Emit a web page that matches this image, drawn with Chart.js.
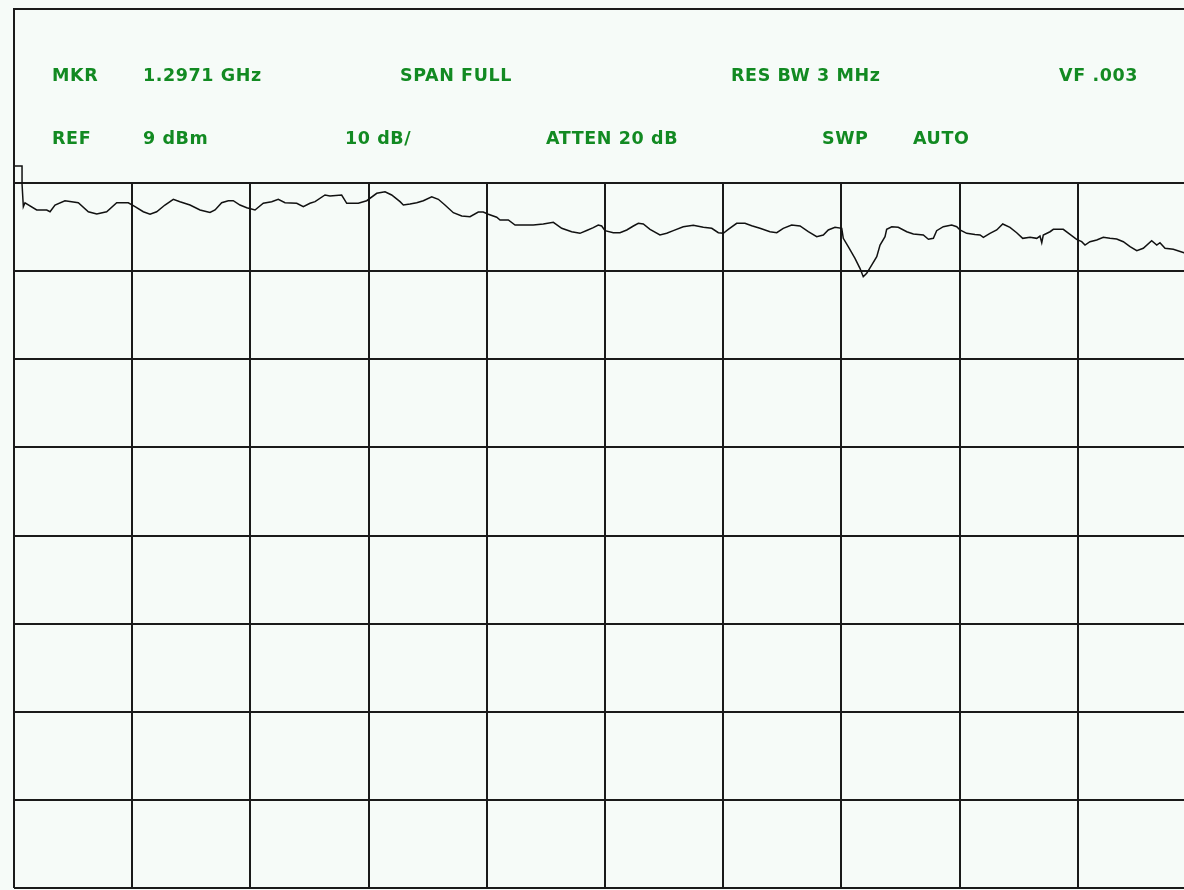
<!DOCTYPE html>
<html><head><meta charset="utf-8">
<script src="https://cdn.jsdelivr.net/npm/chart.js@4/dist/chart.umd.min.js"></script>
<style>
html,body{margin:0;padding:0;background:#f6fbf8;overflow:hidden;width:1184px;height:890px}
#wrap{position:relative;width:1184px;height:890px;overflow:hidden;background:#f6fbf8}
canvas{position:absolute;left:0;top:0}
#panel{position:absolute;left:13px;top:8px;width:1300px;height:175px;border-top:2px solid #1a1a1a;border-left:2px solid #1a1a1a}
.lbl{position:absolute;font-family:"DejaVu Sans",sans-serif;font-weight:bold;font-size:17.5px;line-height:1;color:#128a22;white-space:pre;letter-spacing:0.6px}
</style></head><body>
<div id="wrap"><canvas id="c" width="1200" height="890"></canvas><div id="panel"></div></div>
<script>
// Frequency position in graticule divisions (span FULL, 10 div)
const freqDiv = [0,0.068,0.068,0.079,0.093,0.192,0.277,0.305,0.347,0.431,0.544,0.629,0.700,0.784,0.869,0.967,1.024,1.094,1.151,1.207,1.277,1.348,1.404,1.489,1.574,1.658,1.701,1.757,1.813,1.855,1.912,1.969,2.039,2.109,2.180,2.236,2.293,2.392,2.448,2.504,2.547,2.631,2.673,2.772,2.815,2.913,2.984,3.069,3.139,3.195,3.266,3.294,3.350,3.407,3.463,3.534,3.590,3.646,3.717,3.788,3.858,3.928,3.970,4.013,4.084,4.112,4.182,4.239,4.309,4.393,4.478,4.563,4.634,4.718,4.788,4.845,4.901,4.943,4.972,5.000,5.070,5.127,5.184,5.240,5.282,5.324,5.381,5.465,5.522,5.578,5.662,5.747,5.832,5.903,5.959,6.001,6.043,6.114,6.184,6.241,6.311,6.396,6.453,6.508,6.579,6.650,6.720,6.791,6.847,6.889,6.946,7.003,7.016,7.058,7.115,7.157,7.185,7.214,7.256,7.299,7.327,7.369,7.383,7.426,7.481,7.553,7.609,7.693,7.736,7.778,7.806,7.862,7.933,7.976,8.003,8.060,8.130,8.173,8.201,8.257,8.314,8.365,8.426,8.483,8.534,8.596,8.653,8.680,8.695,8.708,8.765,8.793,8.877,8.934,8.990,9.033,9.061,9.103,9.160,9.216,9.272,9.329,9.385,9.442,9.499,9.554,9.625,9.668,9.695,9.738,9.808,9.898,9.95];
// Trace level in dBm (REF 9 dBm, 10 dB/div)
const levelDbm = [10.93,10.93,8.89,6.31,6.76,5.94,5.94,5.74,6.50,6.99,6.76,5.74,5.48,5.74,6.76,6.76,6.31,5.74,5.45,5.74,6.50,7.15,6.88,6.50,5.94,5.65,5.94,6.76,6.99,6.99,6.50,6.20,5.94,6.70,6.88,7.15,6.76,6.70,6.31,6.70,6.88,7.64,7.52,7.64,6.70,6.70,6.99,7.83,8.01,7.64,6.88,6.50,6.62,6.76,6.99,7.44,7.15,6.50,5.63,5.25,5.17,5.71,5.71,5.45,5.11,4.80,4.80,4.23,4.23,4.23,4.35,4.54,3.86,3.47,3.29,3.61,3.93,4.23,4.12,3.59,3.36,3.36,3.67,4.12,4.43,4.35,3.74,3.10,3.29,3.59,4.04,4.20,3.97,3.86,3.36,3.29,3.74,4.43,4.43,4.15,3.86,3.47,3.36,3.86,4.23,4.12,3.47,2.90,3.10,3.67,3.97,3.86,2.72,1.77,0.45,-0.68,-1.64,-1.25,-0.31,0.63,1.96,2.90,3.74,4.04,3.97,3.47,3.21,3.10,2.61,2.72,3.59,4.04,4.23,4.04,3.67,3.29,3.15,3.10,2.84,3.29,3.67,4.35,3.97,3.36,2.72,2.84,2.72,2.98,2.22,3.10,3.47,3.74,3.74,3.18,2.61,2.34,1.96,2.34,2.53,2.84,2.72,2.64,2.34,1.77,1.32,1.59,2.45,1.96,2.22,1.59,1.47,1.09,1.0];
const xTicks = [0,1,2,3,4,5,6,7,8,9,10];
const yTicks = [9,-1,-11,-21,-31,-41,-51,-61,-71];
const headerRow1 = ["MKR","1.2971 GHz","SPAN FULL","RES BW 3 MHz","VF .003"];
const headerRow2 = ["REF","9 dBm","10 dB/","ATTEN 20 dB","SWP","AUTO"];

// layout of header texts (pixel positions)
const row1X = [52,143,400,731,1059];
const row2X = [52,143,345,546,822,913];
const wrap = document.getElementById('wrap');
function addRow(texts, xs, top){
  texts.forEach((t,i)=>{
    const d=document.createElement('div');
    d.className='lbl'; d.textContent=t;
    d.style.left=xs[i]+'px'; d.style.top=top+'px';
    wrap.appendChild(d);
  });
}
addRow(headerRow1,row1X,67.3);
addRow(headerRow2,row2X,129.7);

const pts = freqDiv.map((x,i)=>({x:x,y:levelDbm[i]}));
new Chart(document.getElementById('c'),{
  type:'line',
  data:{datasets:[{data:pts,borderColor:'#111',borderWidth:1.5,pointRadius:0,tension:0,clip:false,fill:false}]},
  options:{
    responsive:false,animation:false,
    layout:{padding:{left:14,top:183,right:4,bottom:2}},
    plugins:{legend:{display:false},tooltip:{enabled:false}},
    scales:{
      x:{type:'linear',min:0,max:10,
        afterBuildTicks:s=>{s.ticks=xTicks.map(v=>({value:v}));},
        ticks:{display:false},border:{display:false},
        grid:{color:'#1a1a1a',lineWidth:2,drawTicks:false}},
      y:{type:'linear',min:-71,max:9,
        afterBuildTicks:s=>{s.ticks=yTicks.map(v=>({value:v}));},
        ticks:{display:false},border:{display:false},
        grid:{color:'#1a1a1a',lineWidth:2,drawTicks:false}}
    }
  }
});
</script>
</body></html>
